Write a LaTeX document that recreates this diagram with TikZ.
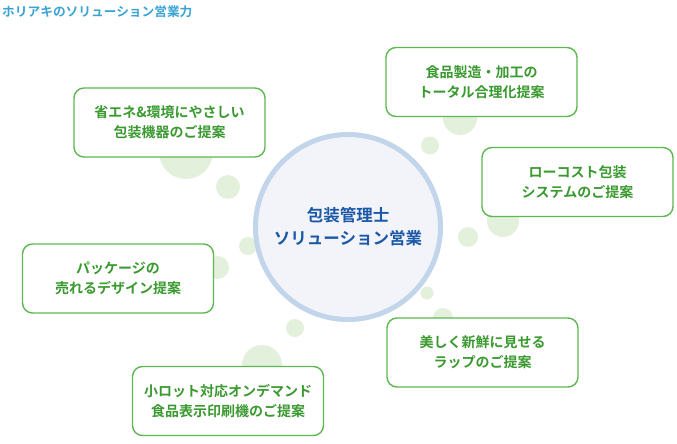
\documentclass[tikz,border=0pt]{standalone}
\usepackage{fontspec}
\setmainfont{Noto Sans CJK JP}[BoldFont={Noto Sans CJK JP Bold}]
\usetikzlibrary{calc}

\definecolor{bubblegreen}{HTML}{E3F0DC}
\definecolor{boxgreen}{HTML}{5DB852}
\definecolor{textgreen}{HTML}{3A9A30}
\definecolor{ringblue}{HTML}{C3D5EA}
\definecolor{corefill}{HTML}{F2F4FA}
\definecolor{coreblue}{HTML}{1B58A6}
\definecolor{titleblue}{HTML}{3BA3D3}

\begin{document}
\begin{tikzpicture}[x=1pt, y=-1pt, line join=round,
  bubble/.style={fill=bubblegreen},
  propbox/.style={draw=boxgreen, line width=1.4pt, fill=white, rounded corners=10pt,
    minimum width=\bw pt, minimum height=\bh pt, inner sep=0pt, align=center,
    text=textgreen, font=\bfseries\fontsize{14}{20}\selectfont},
  core/.style={circle, draw=ringblue, line width=5pt, fill=corefill,
    minimum size=185pt, inner sep=0pt, align=center,
    text=coreblue, font=\bfseries\fontsize{16.5}{23}\selectfont}]
% ---------- parameters ----------
\def\bw{191}   % box width
\def\bh{69}    % box height

\useasboundingbox (0,0) rectangle (677,444);

% ---------- title ----------
\node[anchor=west, inner sep=0pt, text=titleblue, font=\bfseries\fontsize{12.7}{14}\selectfont]
  (title) at (2,12) {ホリアキのソリューション営業力};

% ---------- bubbles ----------
\fill[bubble] (186,152) circle (27pt);
\fill[bubble] (228,187) circle (12pt);
\fill[bubble] (248,246) circle (9pt);
\fill[bubble] (217.5,267.5) circle (11.5pt);
\fill[bubble] (295,328) circle (9pt);
\fill[bubble] (262,365) circle (20pt);
\fill[bubble] (460,118) circle (17pt);
\fill[bubble] (430,145.5) circle (9pt);
\fill[bubble] (503,221) circle (16pt);
\fill[bubble] (468,237) circle (10pt);
\fill[bubble] (427,293) circle (6.5pt);
\fill[bubble] (443,318) circle (10pt);

% ---------- centre ----------
\node[core] (hub) at (348,227) {包装管理士\\ソリューション営業};

% ---------- proposals ----------
\node[propbox] (eco)     at (169.5,122.5) {省エネ\&環境にやさしい\\包装機器のご提案};
\node[propbox] (food)    at (481.5,82)    {食品製造・加工の\\トータル合理化提案};
\node[propbox] (lowcost) at (577.5,182)   {ローコスト包装\\システムのご提案};
\node[propbox] (design)  at (118,278.5)   {パッケージの\\売れるデザイン提案};
\node[propbox] (wrap)    at (482.5,352.5) {美しく新鮮に見せる\\ラップのご提案};
\node[propbox] (print)   at (228,401)     {小ロット対応オンデマンド\\食品表示印刷機のご提案};

\end{tikzpicture}
\end{document}
